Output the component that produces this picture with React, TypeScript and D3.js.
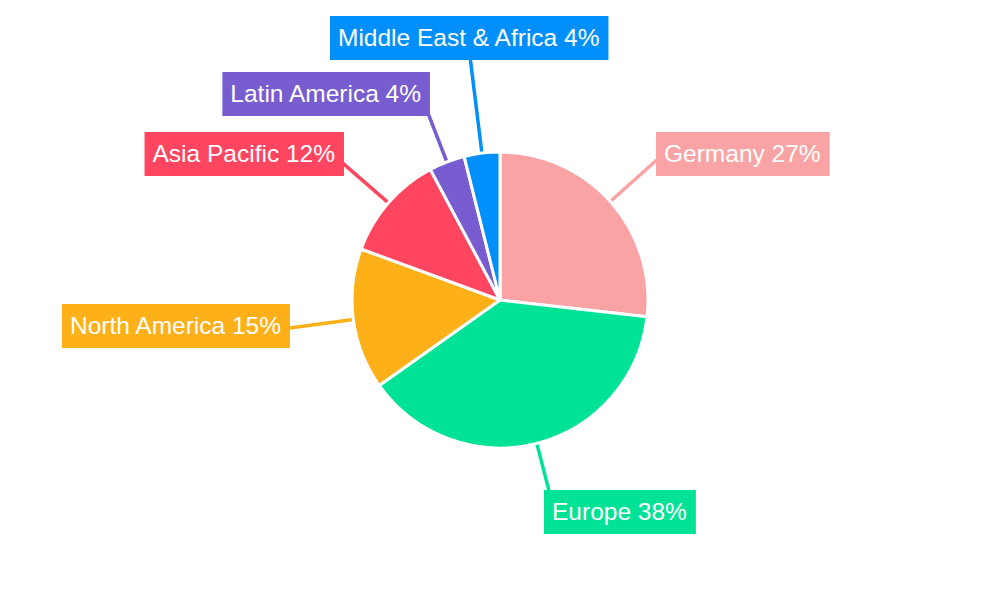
import React, { useEffect, useRef } from "react";
import * as d3 from "d3";

const categories = ["Germany", "Europe", "North America", "Asia Pacific", "Latin America", "Middle East & Africa"];
const values = [26.8, 38.4, 15.4, 11.6, 3.9, 3.9];
const colors = ["#F9A3A4", "#00E396", "#FEB019", "#FF4560", "#775DD0", "#008FFB"];

// label box layout: x is left edge when align = "start", right edge when align = "end"
const labelX = [656, 544, 290, 344, 430, 330];
const labelY = [132, 490, 304, 132, 72, 16];
const labelAlign = ["start", "start", "end", "end", "end", "start"];

const W = 1000;
const H = 600;
const CX = 500;
const CY = 300;
const R = 148;
const BOX_H = 44;
const PAD = 8;
const FONT = "'Liberation Sans', Arial, sans-serif";

export default function App() {
  const ref = useRef<SVGSVGElement | null>(null);

  useEffect(() => {
    const svg = d3.select(ref.current);
    svg.selectAll("*").remove();
    const total = d3.sum(values);
    const data = categories.map((c, i) => ({ c, v: values[i], i }));
    const pie = d3.pie<any>().sort(null).value((d: any) => d.v).startAngle(0).endAngle(2 * Math.PI);
    const arcs = pie(data);
    const arc = d3.arc<any>().innerRadius(0).outerRadius(R);

    const gLines = svg.append("g");
    const gPie = svg.append("g").attr("transform", `translate(${CX},${CY})`);
    const gLabels = svg.append("g");

    gPie
      .selectAll("path")
      .data(arcs)
      .join("path")
      .attr("d", arc as any)
      .attr("fill", (d: any) => colors[d.data.i])
      .attr("stroke", "#ffffff")
      .attr("stroke-width", 3)
      .attr("stroke-linejoin", "round");

    arcs.forEach((a: any) => {
      const i = a.data.i;
      const pct = Math.round((a.data.v / total) * 100);
      const g = gLabels.append("g");
      const txt = g
        .append("text")
        .attr("font-family", FONT)
        .attr("font-size", 24.5)
        .attr("fill", "#ffffff")
        .text(`${categories[i]} ${pct}%`);
      const tw = (txt.node() as SVGTextElement).getComputedTextLength();
      const bw = tw + PAD * 2 + 1;
      const left = labelAlign[i] === "start" ? labelX[i] : labelX[i] - bw;
      const top = labelY[i];
      g.insert("rect", "text")
        .attr("x", left)
        .attr("y", top)
        .attr("width", bw)
        .attr("height", BOX_H)
        .attr("fill", colors[i]);
      txt.attr("x", left + PAD).attr("y", top + 30);

      // leader line along the slice's mid angle, from pie edge to box
      const mid = (a.startAngle + a.endAngle) / 2;
      const dx = Math.sin(mid);
      const dy = -Math.cos(mid);
      const sx = CX + dx * (R - 2);
      const sy = CY + dy * (R - 2);
      let tmin = 0;
      let tmax = Infinity;
      const x0 = left, x1 = left + bw, y0 = top, y1 = top + BOX_H;
      const slab = (o: number, d: number, lo: number, hi: number) => {
        if (Math.abs(d) < 1e-9) {
          if (o < lo || o > hi) { tmin = Infinity; }
          return;
        }
        let t1 = (lo - o) / d;
        let t2 = (hi - o) / d;
        if (t1 > t2) [t1, t2] = [t2, t1];
        tmin = Math.max(tmin, t1);
        tmax = Math.min(tmax, t2);
      };
      slab(CX, dx, x0, x1);
      slab(CY, dy, y0, y1);
      let ex: number, ey: number;
      if (tmin <= tmax && isFinite(tmin)) {
        ex = CX + dx * (tmin + 4);
        ey = CY + dy * (tmin + 4);
      } else {
        ex = Math.max(x0 + 2, Math.min(x1 - 2, CX + dx * 220));
        ey = Math.max(y0 + 2, Math.min(y1 - 2, CY + dy * 220));
      }
      gLines
        .append("line")
        .attr("x1", sx)
        .attr("y1", sy)
        .attr("x2", ex)
        .attr("y2", ey)
        .attr("stroke", colors[i])
        .attr("stroke-width", 3.5);
    });
  }, []);

  return (
    <svg
      ref={ref}
      width={W}
      height={H}
      style={{ position: "absolute", left: 0, top: 0, background: "#ffffff" }}
    />
  );
}
